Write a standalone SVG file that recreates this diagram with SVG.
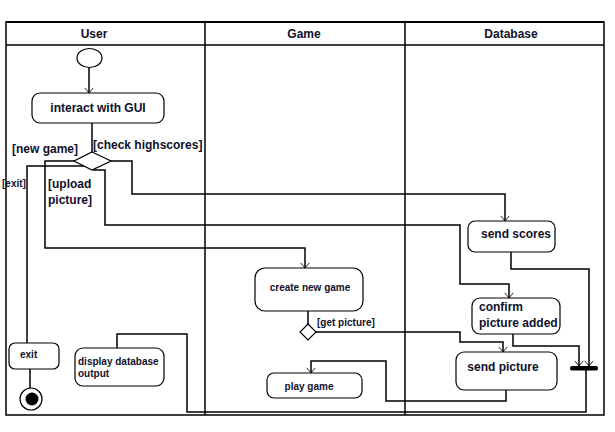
<svg xmlns="http://www.w3.org/2000/svg" width="615" height="432" viewBox="0 0 615 432">
<style>
.frame{fill:none;stroke:#000;stroke-width:1.5}
.box{fill:#fff;stroke:#000;stroke-width:1.2}
.c{fill:none;stroke:#000;stroke-width:1.5}
.t{font-family:"Liberation Sans",Arial,sans-serif;font-weight:bold;font-size:12px;fill:#10102a}
.s{font-size:10px}
.m{text-anchor:middle}
</style>
<defs>
<marker id="arr" markerWidth="12" markerHeight="12" refX="0" refY="0" viewBox="-7 -7 8 14" orient="auto" markerUnits="userSpaceOnUse">
<path d="M-6,-5 L0,0 L-6,5" fill="none" stroke="#000" stroke-width="1"/>
</marker>
</defs>
<rect width="615" height="432" fill="#fff"/>
<g id="lanes">
<rect class="frame" x="6" y="22" width="598" height="393"/>
<line x1="6" y1="22" x2="604" y2="22" stroke="#000" stroke-width="2"/>
<line class="frame" x1="6" y1="45" x2="604" y2="45"/>
<line class="frame" x1="205" y1="22" x2="205" y2="415"/>
<line class="frame" x1="405" y1="22" x2="405" y2="415"/>
<text class="t m" x="94" y="38">User</text>
<text class="t m" x="304" y="38">Game</text>
<text class="t m" x="511" y="38">Database</text>
</g>
<g id="connectors">
<path class="c" d="M89,67 V93" marker-end="url(#arr)"/>
<path class="c" d="M92,123 V152"/>
<path class="c" d="M74,161 H45 V248 H305 V268" marker-end="url(#arr)"/>
<path class="c" d="M84,166 H27 V343"/>
<path class="c" d="M93,170 H105 V225 H460 V284 H509 V298" marker-end="url(#arr)"/>
<path class="c" d="M111,161 H132 V194 H505 V221" marker-end="url(#arr)"/>
<path class="c" d="M308,311 V324"/>
<path class="c" d="M316,332 H460 V342 H503 V352" marker-end="url(#arr)"/>
<path class="c" d="M511,252 V269 H589 V366" marker-end="url(#arr)"/>
<path class="c" d="M513,334 V346 H579 V366" marker-end="url(#arr)"/>
<path class="c" d="M506,390 V401 H386 V361 H311 V373" marker-end="url(#arr)"/>
<path class="c" d="M586,370 V412 H187 V334 H117 V348"/>
<path class="c" d="M30,369 V388"/>
<text class="t" x="12" y="153">[new game]</text>
<text class="t" x="93" y="149">[check highscores]</text>
<text class="t s" x="2" y="187">[exit]</text>
<text class="t" x="48" y="188">[upload</text>
<text class="t" x="48" y="204">picture]</text>
<text class="t s" x="317" y="326">[get picture]</text>
</g>
<g id="start"><ellipse cx="89.5" cy="58" rx="12.5" ry="9.5" fill="#fff" stroke="#000" stroke-width="1.2"/></g>
<g id="interact"><rect class="box" x="32" y="93" width="132" height="30" rx="8"/><text class="t m" x="98" y="112">interact with GUI</text></g>
<g id="decision1"><polygon class="box" points="92,152 111,161 92,170 74,161"/></g>
<g id="exit"><rect class="box" x="9" y="343" width="50" height="26" rx="6"/><text class="t s" x="20" y="358">exit</text></g>
<g id="end"><circle cx="31" cy="399" r="11" fill="#fff" stroke="#000" stroke-width="1.2"/><circle cx="32" cy="399" r="6.5" fill="#000"/></g>
<g id="display"><rect class="box" x="75" y="348" width="89" height="38" rx="8"/><text class="t s" x="78" y="365">display database</text><text class="t s" x="78" y="377">output</text></g>
<g id="create"><rect class="box" x="255" y="268" width="108" height="43" rx="10"/><text class="t s m" x="310" y="291">create new game</text></g>
<g id="decision2"><polygon class="box" points="308,324 316,332 308,340 300,332"/></g>
<g id="play"><rect class="box" x="267" y="373" width="95" height="25" rx="7"/><text class="t s m" x="309" y="390">play game</text></g>
<g id="sendscores"><rect class="box" x="468" y="221" width="87" height="31" rx="7"/><text class="t m" x="516" y="238">send scores</text></g>
<g id="confirm"><rect class="box" x="472" y="298" width="88" height="36" rx="8"/><text class="t" x="479" y="311">confirm</text><text class="t" x="479" y="327">picture added</text></g>
<g id="sendpicture"><rect class="box" x="456" y="352" width="101" height="38" rx="8"/><text class="t m" x="503" y="371">send picture</text></g>
<g id="join"><rect x="570" y="366" width="28" height="4.5" rx="2" fill="#000"/></g>
</svg>
